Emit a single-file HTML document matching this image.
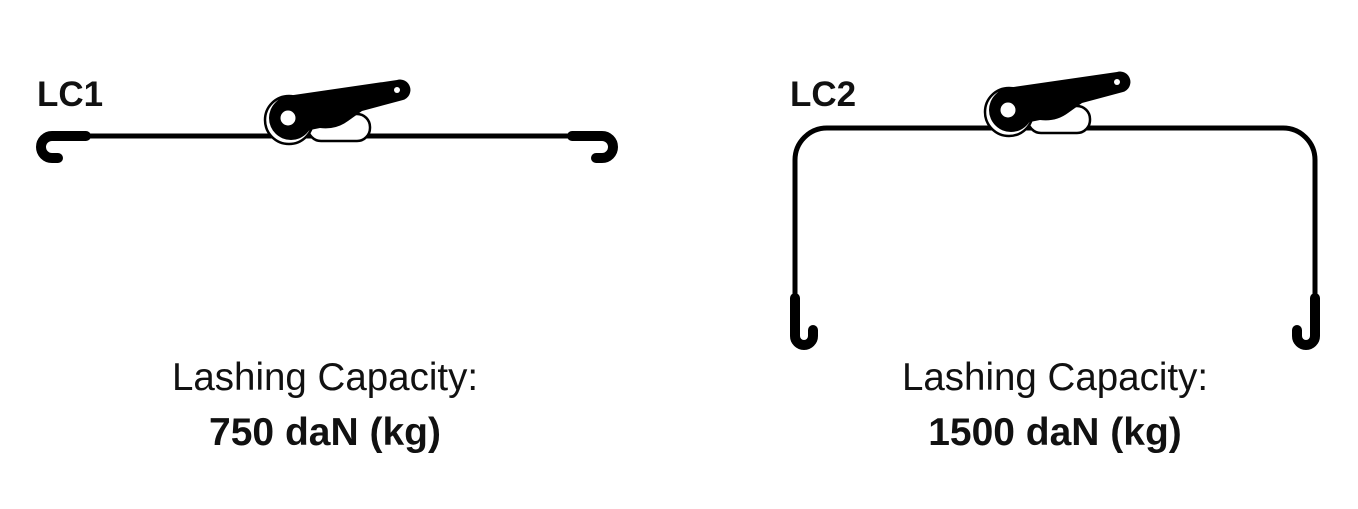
<!DOCTYPE html>
<html><head><style>
html,body{margin:0;padding:0;background:#fff;}
body{width:1358px;height:509px;overflow:hidden;position:relative;font-family:"Liberation Sans",sans-serif;color:#111;}
.t{position:absolute;text-align:center;width:500px;white-space:nowrap;}
</style></head><body>
<svg width="1358" height="509" style="position:absolute;left:0;top:0">
<defs>
<g id="r">
  <rect x="308" y="114" width="62" height="27" rx="13" fill="#fff" stroke="#000" stroke-width="2.5"/>
  <circle cx="289" cy="120" r="24" fill="#fff" stroke="#000" stroke-width="2.5"/>
  <path d="M280,97 L397,80 A10,10 0 0 1 403,100 L362,111 L348,121 Q336,130 320,128 L300,132 L272,110 Z" fill="#000"/>
  <circle cx="291" cy="118" r="22" fill="#000"/>
  <circle cx="288" cy="118" r="7.5" fill="#fff"/>
  <circle cx="397" cy="90" r="3" fill="#fff"/>
</g>
</defs>
<g fill="none" stroke="#000" stroke-linecap="round">
  <line x1="84" y1="136" x2="575" y2="136" stroke-width="5"/>
  <path d="M86,136 H52 A11,11 0 0 0 52,158 H58" stroke-width="10"/>
  <path d="M572,136 H602 A11,11 0 0 1 602,158 H596" stroke-width="10"/>
</g>
<use href="#r"/>
<g fill="none" stroke="#000" stroke-linecap="round">
  <path d="M795,300 V160 A32,32 0 0 1 827,128 H1283 A32,32 0 0 1 1315,160 V300" stroke-width="5"/>
  <path d="M795,298 V336 A9,9 0 0 0 813,336 V330" stroke-width="10"/>
  <path d="M1315,298 V336 A9,9 0 0 1 1297,336 V330" stroke-width="10"/>
</g>
<use href="#r" transform="translate(720,-8)"/>
</svg>
<div style="position:absolute;left:37px;top:75px;font-size:35px;font-weight:bold;">LC1</div>
<div style="position:absolute;left:790px;top:75px;font-size:35px;font-weight:bold;">LC2</div>
<div class="t" style="left:75px;top:356px;font-size:38.5px;">Lashing Capacity:</div>
<div class="t" style="left:75px;top:411px;font-size:39px;font-weight:bold;">750 daN (kg)</div>
<div class="t" style="left:805px;top:356px;font-size:38.5px;">Lashing Capacity:</div>
<div class="t" style="left:805px;top:411px;font-size:39px;font-weight:bold;">1500 daN (kg)</div>
</body></html>
